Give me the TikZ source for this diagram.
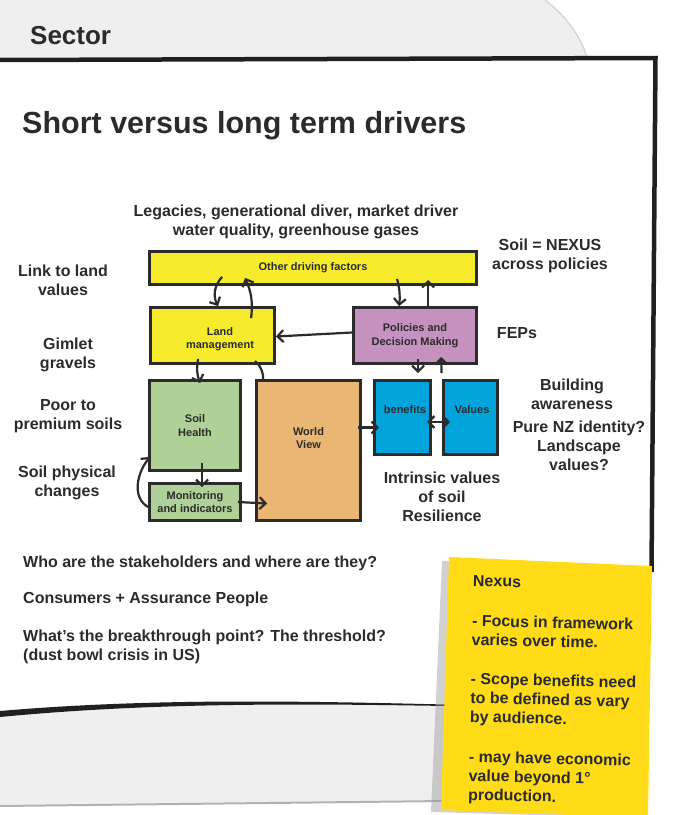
\documentclass[tikz,border=0pt]{standalone}
\usepackage{fontspec}
\setmainfont{Liberation Sans}
\usetikzlibrary{arrows.meta}

\definecolor{ink}{HTML}{2B2B2B}
\definecolor{framecol}{HTML}{231F20}
\definecolor{tabgray}{HTML}{EFEFEF}
\definecolor{drvyellow}{HTML}{F6EB2D}
\definecolor{polpink}{HTML}{C592BF}
\definecolor{soilgreen}{HTML}{AFD096}
\definecolor{vieworange}{HTML}{E9B673}
\definecolor{valblue}{HTML}{00A3DA}
\definecolor{noteyellow}{HTML}{FFDC17}

\tikzset{
  box/.style={draw=ink, line width=2.8pt, inner sep=0pt, text=ink, align=center,
    font=\bfseries\fontsize{11}{13.5}\selectfont},
  boxtext/.style={inner sep=0pt, text=ink, align=center,
    font=\bfseries\fontsize{11}{13.5}\selectfont},
  side/.style={inner sep=0pt, text=ink, align=center,
    font=\bfseries\fontsize{16}{19}\selectfont},
  plain/.style={side, align=left, anchor=west},
  barb/.tip={Straight Barb[length=6pt,width=12pt]},
  arr/.style={draw=ink, line width=2.2pt, -barb},
  darr/.style={draw=ink, line width=2.2pt, barb-barb},
}

\begin{document}
\begin{tikzpicture}[x=1pt,y=-1pt]
        \useasboundingbox (0,0) rectangle (674,815);

        % Fondo: pestana y tarjetas
        \fill[tabgray] (0,0) -- (545,0) .. controls (565,15) and (580,35) .. (587,57) -- (0,57) -- cycle;
        \draw[gray!40, line width=1pt] (545,0) .. controls (565,15) and (580,35) .. (587,57);
        \fill[tabgray] (0,714) .. controls (150,700) and (300,702) .. (446,706) -- (446,801) -- (0,806) -- cycle;
        \draw[gray!60, line width=2pt] (0,806) -- (446,801);
        \draw[framecol, line width=4.5pt] (-5,60) -- (655.5,58) -- (651.5,572);
        \fill[framecol] (0,711) .. controls (150,698) and (300,701) .. (446,704.5)
            -- (446,706) .. controls (300,703.5) and (150,702.5) .. (0,717) -- cycle;

        % Titulos
        \node[anchor=base west, inner sep=0pt, text=ink, font=\bfseries\fontsize{26}{30}\selectfont] (sector) at (30,44) {Sector};
        \node[anchor=base west, inner sep=0pt, text=ink, font=\bfseries\fontsize{30.5}{34}\selectfont] (title) at (22,133) {Short versus long term drivers};

        % Cajas
        \node[box, fill=drvyellow, minimum width=327, minimum height=33] (other) at (313,268) {Other driving factors};
        \node[box, fill=drvyellow, minimum width=124, minimum height=56] (landmgmt) at (212.5,335.5) {};
        \node[boxtext] (landtext) at ([xshift=7.5pt,yshift=-3.5pt]landmgmt.center) {Land\\management};
        \node[box, fill=polpink, minimum width=123, minimum height=56] (policy) at (415,335.5) {Policies and\\Decision Making};
        \node[box, fill=soilgreen, minimum width=91, minimum height=90] (soilhealth) at (195,425.5) {Soil\\Health};
        \node[box, fill=soilgreen, minimum width=91, minimum height=37] (monitor) at (195,502) {Monitoring\\and indicators};
        \node[box, fill=vieworange, minimum width=104, minimum height=140] (worldview) at (308.5,450.5) {};
        \node[boxtext] (viewtext) at ([yshift=12.5pt]worldview.center) {World\\View};
        \node[box, fill=valblue, minimum width=56, minimum height=74] (benefits) at (402.5,417.5) {};
        \node[boxtext] (benefitstext) at ([xshift=2.5pt,yshift=7.5pt]benefits.center) {benefits};
        \node[box, fill=valblue, minimum width=54, minimum height=74] (values) at (470.5,417.5) {};
        \node[boxtext] (valuestext) at ([xshift=1.5pt,yshift=7.5pt]values.center) {Values};

        % Flechas
        \draw[arr] ([xshift=74pt,yshift=9pt]other.south west) to[bend right=35] ([xshift=69pt]landmgmt.north west);
        \draw[arr] ([xshift=102pt,yshift=-12pt]landmgmt.north west) to[bend right=15] ([xshift=97pt,yshift=8pt]other.south west);
        \draw[arr] ([xshift=249pt,yshift=7pt]other.south west) to[bend left=10] ([xshift=47pt]policy.north west);
        \draw[arr] ([xshift=76pt,yshift=-2pt]policy.north west) -- ([xshift=280pt,yshift=6pt]other.south west);
        \draw[arr] ([yshift=3pt]policy.west) -- ([yshift=-1pt]landmgmt.east);
        \draw[arr] ([xshift=49pt,yshift=6pt]landmgmt.south west) to[bend right=15] ([xshift=52pt,yshift=-4pt]soilhealth.north west);
        \draw[ink, line width=2.2pt] ([xshift=106pt,yshift=4pt]landmgmt.south west) to[bend left=25] ([xshift=8pt,yshift=-2pt]worldview.north west);
        \draw[arr] ([xshift=54pt,yshift=9pt]soilhealth.south west) -- ([xshift=54pt,yshift=-5pt]monitor.north west);
        \draw[arr] ([yshift=-5pt]monitor.west) to[out=150,in=230] ([xshift=2pt,yshift=15pt]soilhealth.south west);
        \draw[arr] ([xshift=-4pt]monitor.east) -- ([xshift=12pt,yshift=-53pt]worldview.west);
        \draw[arr] ([xshift=-4pt,yshift=23pt]worldview.east) -- ([xshift=6pt,yshift=-10pt]benefits.west);
        \draw[darr] ([xshift=-5pt,yshift=-4.5pt]benefits.east) -- ([xshift=8pt,yshift=-4.5pt]values.west);
        \draw[arr] ([xshift=66pt,yshift=6pt]policy.south west) -- ([xshift=45pt,yshift=6pt]benefits.north west);
        \draw[arr] ([xshift=-0.5pt,yshift=6pt]values.north west) -- ([xshift=89pt,yshift=8pt]policy.south west);

        % Notas alrededor
        \node[side] (legacies) at (296,222) {Legacies, generational diver, market driver\\water quality, greenhouse gases};
        \node[side] (linkland) at (63,280) {Link to land\\values};
        \node[side] (gimlet) at (68,355) {Gimlet\\gravels};
        \node[side] (premium) at (68,416) {Poor to\\premium soils};
        \node[side] (physical) at (67,483) {Soil physical\\changes};
        \node[side] (nexus) at (550,256) {Soil = NEXUS\\across policies};
        \node[side] (feps) at (517,333) {FEPs};
        \node[side] (awareness) at (572,394) {Building\\awareness};
        \node[side] (identity) at (579,446) {Pure NZ identity?\\Landscape\\values?};
        \node[side] (intrinsic) at (442,497) {Intrinsic values\\of soil\\Resilience};

        % Preguntas abajo
        \node[plain] (stakeholders) at (23,563) {Who are the stakeholders and where are they?};
        \node[plain] (consumers) at (23,599) {Consumers + Assurance People};
        \node[plain] (threshold) at (23,647) {What’s the breakthrough point? The threshold?\\(dust bowl crisis in US)};

        % Post-it
        \fill[black!40, opacity=.45] (442,561) -- (649,570) -- (645,818) -- (431,812) -- cycle;
        \fill[noteyellow] (449,557) -- (652,566) -- (648,818) -- (441,810) -- cycle;
        \node[plain, anchor=north west, rotate=-1.3] (notetext) at (473,575) {Nexus\\[21pt]
            - Focus in framework\\varies over time.\\[20pt]
            - Scope benefits need\\to be defined as vary\\by audience.\\[21pt]
            - may have economic\\value beyond 1°\\production.};
    \end{tikzpicture}
\end{document}
